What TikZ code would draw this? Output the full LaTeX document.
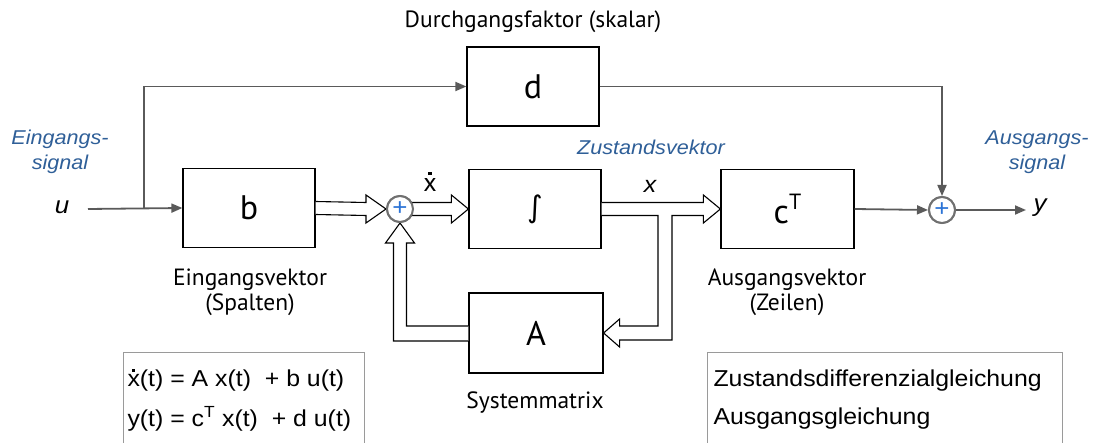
\documentclass[tikz,border=0pt]{standalone}
\usepackage{fontspec}
\setmainfont{Liberation Sans}[FakeStretch=1.08]
\newfontfamily\gill{PT Sans}
\newfontfamily\dejavu{DejaVu Sans}
\usetikzlibrary{arrows.meta,calc}
\definecolor{lblblue}{HTML}{2F5F98}
\definecolor{sigcol}{HTML}{5A5A5A}
\definecolor{ringcol}{HTML}{707070}
\definecolor{plusblue}{HTML}{2B73D6}
\definecolor{eqframe}{HTML}{9A9A9A}
\newcommand{\xdt}{\ooalign{x\cr\hidewidth\raisebox{0.64em}{\rule{0.12em}{0.12em}}\hidewidth\cr}}
\begin{document}
\begin{tikzpicture}[x=1pt,y=-1pt,
  blockbox/.style={draw=black, line width=1.2pt, minimum width=132pt, minimum height=79pt, inner sep=0pt, font=\gill\fontsize{34}{34}\selectfont},
  sigline/.style={draw=sigcol, line width=1.8pt, -{Triangle[length=11pt,width=9pt]}},
  hollow/.style={draw=black, line width=1.1pt, fill=white, line join=miter},
  sumnode/.style={circle, draw=ringcol, line width=2pt, fill=white, minimum size=26pt, inner sep=0pt, text=plusblue, font=\fontsize{24}{24}\selectfont},
  lbl/.style={text=lblblue, font=\itshape\fontsize{20}{25}\selectfont, align=center},
  gtext/.style={font=\gill\fontsize{23.5}{25}\selectfont, align=center},
  eqtext/.style={anchor=west, font=\fontsize{23}{23}\selectfont}
]
\useasboundingbox (0,0) rectangle (1097,443);
\clip (0,0) rectangle (1097,443);

% blocks
\node[blockbox] (d) at (533,86.5) {d};
\node[blockbox] (b) at (249,208) {b};
\node[blockbox] (int) at (535,209) {\dejavu\fontsize{30}{30}\selectfont ∫};
\node[blockbox, minimum width=134pt, minimum height=80pt] (A) at (536,333) {A};
\node[blockbox, minimum width=133pt] (cT) at (787.5,209) {c\raisebox{0.42em}{\fontsize{22}{22}\selectfont T}};

% sums
\node[sumnode] (s1) at (400,209) {};
\node[sumnode] (s2) at (942,210) {};

% labels
\node[gtext] (dlab) at (533,22) {Durchgangsfaktor (skalar)};
\node[lbl] (insig) at (60,152) {Eingangs-\\signal};
\node[lbl] (zvec) at (651,147) {Zustandsvektor};
\node[lbl] (outsig) at (1037,152) {Ausgangs-\\signal};
\node[font=\itshape\fontsize{24}{24}\selectfont] (u) at (62,207) {u};
\node[font=\itshape\fontsize{24}{24}\selectfont] (y) at (1040,208) {y};
\node[font=\gill\fontsize{26}{26}\selectfont] (xdl) at (430,185) {\xdt};
\node[font=\itshape\fontsize{23}{23}\selectfont] (xl) at (650,186) {x};
\node[gtext] (bvec) at (250,292) {Eingangsvektor\\(Spalten)};
\node[gtext] (cvec) at (787,292) {Ausgangsvektor\\(Zeilen)};
\node[gtext] (amat) at (535,403) {Systemmatrix};

% signal lines
\coordinate (ustart) at (88,209);
\coordinate (br) at (144,209);
\coordinate (yend) at (1026,210);
\draw[sigline] (ustart) -- (b.west);
\draw[sigline] (br) |- (d.west);
\draw[sigline] (d.east) -| (s2.north);
\draw[sigline] (cT.east) -- (s2.west);
\draw[sigline] (s2.east) -- (yend);

% hollow arrows
\draw[hollow] ($(b.east)+(0,-6.5)$) -- ($(s1.west)+(-20,-6.5)$) -- ($(s1.west)+(-20,-14)$) -- (s1.west)
  -- ($(s1.west)+(-20,14)$) -- ($(s1.west)+(-20,6.5)$) -- ($(b.east)+(0,6.5)$);
\draw[hollow] ($(s1.center)+(0,-6.5)$) -- ($(int.west)+(-17,-6.5)$) -- ($(int.west)+(-17,-14)$) -- (int.west)
  -- ($(int.west)+(-17,14)$) -- ($(int.west)+(-17,6.5)$) -- ($(s1.center)+(0,6.5)$);
\draw[hollow] ($(int.east)+(0,-6.5)$) -- ($(cT.west)+(-17,-6.5)$) -- ($(cT.west)+(-17,-14)$) -- (cT.west)
  -- ($(cT.west)+(-17,14)$) -- ($(cT.west)+(-17,6.5)$) -- (672,215.5) -- (672,340)
  -- ($(A.east)+(16,7)$) -- ($(A.east)+(16,14)$) -- (A.east) -- ($(A.east)+(16,-14)$) -- ($(A.east)+(16,-7)$)
  -- (658,326) -- (658,215.5) -- ($(int.east)+(0,6.5)$);
\draw[hollow] ($(A.west)+(0,-7)$) -- (406.5,326) -- (406.5,243) -- (414.5,243) -- (s1.south)
  -- (385.5,243) -- (393.5,243) -- (393.5,341) -- ($(A.west)+(0,8)$);

% redraw sums on top
\node[sumnode] at (s1) {+};
\node[sumnode] at (s2) {+};

% equation boxes
\draw[eqframe, line width=1pt] (123,352) rectangle (364,470);
\draw[eqframe, line width=1pt] (707,352) rectangle (1062,470);
\node[eqtext] (eq1) at (124,381) {\xdt(t) = A x(t)\ \ + b u(t)};
\node[eqtext] (eq2) at (124,419) {y(t) = c\textsuperscript{T} x(t)\ \ + d u(t)};
\node[eqtext] (n1) at (710,381) {Zustandsdifferenzialgleichung};
\node[eqtext] (n2) at (710,419) {Ausgangsgleichung};
\end{tikzpicture}
\end{document}
